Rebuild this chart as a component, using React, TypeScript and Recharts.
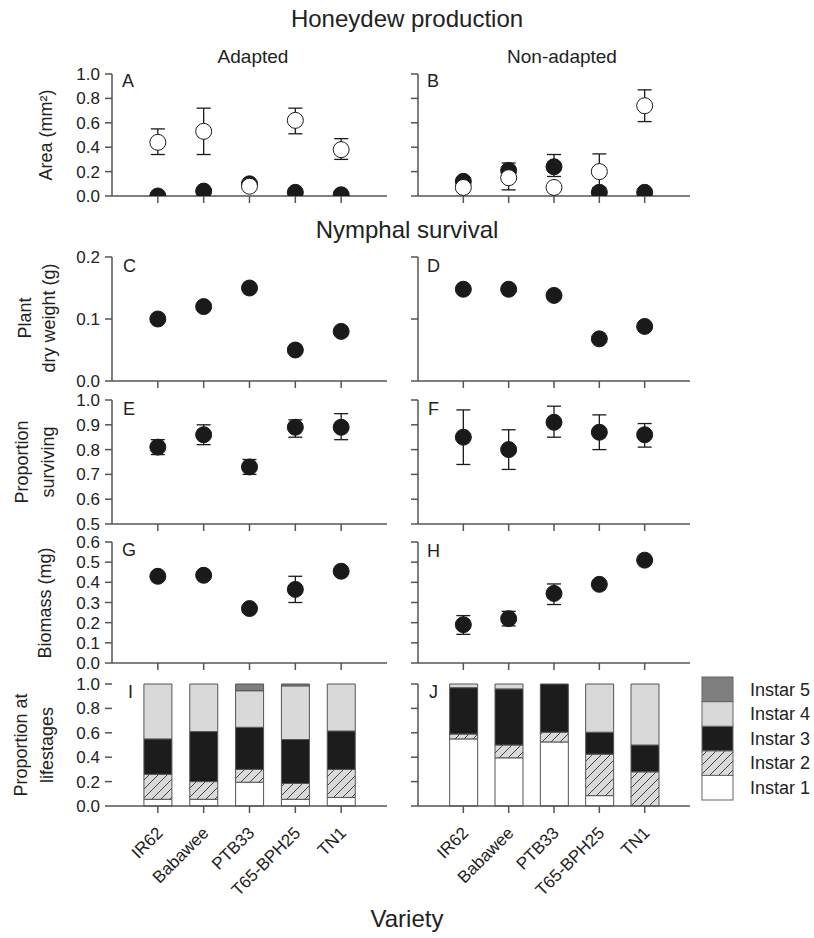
import { ScatterChart, Scatter, XAxis, YAxis, ErrorBar, BarChart, Bar } from 'recharts'

const FONT = "'Liberation Sans', Arial, sans-serif"
const AXIS = '#555'
const INK = '#1a1a1a'

const varieties = ['IR62', 'Babawee', 'PTB33', 'T65-BPH25', 'TN1']
const xPos = [1, 2, 3, 4, 5]

// honeydew area (mm2); filled and open circles, error bounds (lo/hi)
const adaptedFilled = [0.0, 0.04, 0.1, 0.03, 0.01]
const adaptedOpen = [0.44, 0.53, 0.08, 0.62, 0.38]
const adaptedOpenLo = [0.34, 0.34, 0.08, 0.51, 0.3]
const adaptedOpenHi = [0.55, 0.72, 0.08, 0.72, 0.47]
const nonFilled = [0.12, 0.21, 0.24, 0.03, 0.03]
const nonFilledLo = [0.12, 0.21, 0.16, 0.03, 0.03]
const nonFilledHi = [0.12, 0.21, 0.34, 0.03, 0.03]
const nonOpen = [0.07, 0.15, 0.07, 0.2, 0.74]
const nonOpenLo = [0.07, 0.05, 0.07, 0.07, 0.61]
const nonOpenHi = [0.07, 0.27, 0.07, 0.345, 0.87]

// plant dry weight (g)
const dryAdapted = [0.1, 0.12, 0.15, 0.05, 0.08]
const dryNon = [0.148, 0.148, 0.138, 0.068, 0.088]

// proportion surviving
const survAdapted = [0.81, 0.86, 0.73, 0.89, 0.89]
const survAdaptedLo = [0.78, 0.82, 0.7, 0.85, 0.84]
const survAdaptedHi = [0.84, 0.9, 0.76, 0.92, 0.945]
const survNon = [0.85, 0.8, 0.91, 0.87, 0.86]
const survNonLo = [0.74, 0.72, 0.85, 0.8, 0.81]
const survNonHi = [0.96, 0.88, 0.975, 0.94, 0.905]

// biomass (mg)
const bioAdapted = [0.43, 0.435, 0.27, 0.365, 0.455]
const bioAdaptedLo = [0.43, 0.435, 0.27, 0.3, 0.455]
const bioAdaptedHi = [0.43, 0.435, 0.27, 0.43, 0.455]
const bioNon = [0.19, 0.22, 0.345, 0.39, 0.51]
const bioNonLo = [0.142, 0.184, 0.29, 0.39, 0.51]
const bioNonHi = [0.235, 0.256, 0.392, 0.39, 0.51]

// proportion at lifestages
const instars = ['Instar 1', 'Instar 2', 'Instar 3', 'Instar 4', 'Instar 5']
const adaptedI1 = [0.055, 0.055, 0.195, 0.055, 0.07]
const adaptedI2 = [0.205, 0.145, 0.105, 0.13, 0.23]
const adaptedI3 = [0.29, 0.41, 0.345, 0.36, 0.315]
const adaptedI4 = [0.45, 0.39, 0.3, 0.44, 0.385]
const adaptedI5 = [0, 0, 0.055, 0.015, 0]
const nonI1 = [0.55, 0.395, 0.525, 0.085, 0]
const nonI2 = [0.04, 0.105, 0.08, 0.34, 0.28]
const nonI3 = [0.38, 0.46, 0.395, 0.18, 0.22]
const nonI4 = [0.03, 0.04, 0, 0.395, 0.5]
const nonI5 = [0, 0, 0, 0, 0]

const instarFills = ['#ffffff', 'url(#hatch)', '#1c1c1c', '#d9d9d9', '#7f7f7f']

const ticks1 = [0, 0.2, 0.4, 0.6, 0.8, 1.0]
const ticksDry = [0, 0.1, 0.2]
const ticksSurv = [0.5, 0.6, 0.7, 0.8, 0.9, 1.0]
const ticksBio = [0, 0.1, 0.2, 0.3, 0.4, 0.5, 0.6]

const pts = (ys: number[], lo?: number[], hi?: number[]) =>
  ys.map((y, i) => ({
    x: xPos[i],
    y,
    err: lo && hi ? [y - lo[i], hi[i] - y] : [0, 0],
  }))

const stack = (cols: number[][]) =>
  xPos.map((x, i) => ({ x, i1: cols[0][i], i2: cols[1][i], i3: cols[2][i], i4: cols[3][i], i5: cols[4][i] }))

type Series = { data: { x: number; y: number; err: number[] }[]; open?: boolean; bars?: boolean }
type Box = [number, number, number, number]

const LEFT_X: [number, number] = [112, 387]
const RIGHT_X: [number, number] = [418, 690]

const dot = (open: boolean) => (props: any) => (
  <circle cx={props.cx} cy={props.cy} r={8} fill={open ? '#fff' : INK} stroke={INK} strokeWidth={1} />
)

function ScatterPanel({ box, domain, ticks, labels, series }: { box: Box; domain: [number, number]; ticks: number[]; labels: boolean; series: Series[] }) {
  const [x0, y0, x1, y1] = box
  const w = x1 - x0 + 70
  const h = y1 - y0 + 40
  return (
    <div style={{ position: 'absolute', left: x0 - 60, top: y0 - 10, width: w, height: h }}>
      <ScatterChart width={w} height={h} margin={{ top: 10, right: 10, bottom: 0, left: 0 }}>
        <XAxis
          type="number"
          dataKey="x"
          domain={[0, 6]}
          ticks={xPos}
          interval={0}
          tickFormatter={() => ''}
          height={30}
          tickSize={7}
          stroke={AXIS}
          strokeWidth={1.5}
        />
        <YAxis
          type="number"
          dataKey="y"
          domain={domain}
          ticks={ticks}
          interval={0}
          allowDataOverflow
          width={60}
          tickSize={7}
          tickMargin={5}
          stroke={AXIS}
          strokeWidth={1.5}
          tickFormatter={(v: number) => (labels ? v.toFixed(1) : '')}
          tick={{ fontSize: 17, fill: '#222', fontFamily: FONT }}
        />
        {series.map((s, k) => (
          <Scatter key={k} data={s.data} isAnimationActive={false} shape={dot(!!s.open)}>
            {s.bars && <ErrorBar dataKey="err" direction="y" width={7} stroke={INK} strokeWidth={1.3} />}
          </Scatter>
        ))}
      </ScatterChart>
    </div>
  )
}

const VarietyTick = (props: any) => {
  const { x, y, payload } = props
  const ex = x + 6
  const ey = y + 19
  return (
    <text x={ex} y={ey} transform={`rotate(-45 ${ex} ${ey})`} textAnchor="end" fontSize={17} fill="#222" fontFamily={FONT}>
      {varieties[payload.value - 1]}
    </text>
  )
}

function StackPanel({ box, labels, data }: { box: Box; labels: boolean; data: ReturnType<typeof stack> }) {
  const [x0, y0, x1, y1] = box
  const w = x1 - x0 + 70
  const h = y1 - y0 + 110
  const keys = ['i1', 'i2', 'i3', 'i4', 'i5']
  return (
    <div style={{ position: 'absolute', left: x0 - 60, top: y0 - 10, width: w, height: h }}>
      <BarChart width={w} height={h} data={data} margin={{ top: 10, right: 10, bottom: 0, left: 0 }}>
        <XAxis
          type="number"
          dataKey="x"
          domain={[0, 6]}
          ticks={xPos}
          interval={0}
          height={100}
          tickSize={7}
          tickMargin={2}
          stroke={AXIS}
          strokeWidth={1.5}
          tick={<VarietyTick />}
        />
        <YAxis
          type="number"
          domain={[0, 1]}
          ticks={ticks1}
          interval={0}
          width={60}
          tickSize={7}
          tickMargin={5}
          stroke={AXIS}
          strokeWidth={1.5}
          axisLine={!labels}
          tickFormatter={(v: number) => (labels ? v.toFixed(1) : '')}
          tick={{ fontSize: 17, fill: '#222', fontFamily: FONT }}
        />
        {keys.map((k, i) => (
          <Bar key={k} dataKey={k} stackId="s" barSize={28} fill={instarFills[i]} stroke="#555" strokeWidth={1} isAnimationActive={false} />
        ))}
      </BarChart>
    </div>
  )
}

const rowA: [number, number] = [74, 196]
const rowC: [number, number] = [257, 381]
const rowE: [number, number] = [400, 524]
const rowG: [number, number] = [542, 663]
const rowI: [number, number] = [684, 806]

const box = (xs: [number, number], ys: [number, number]): Box => [xs[0], ys[0], xs[1], ys[1]]

const letters: [string, number, number][] = [
  ['A', 122, 87], ['B', 427, 87], ['C', 123, 272], ['D', 427, 272], ['E', 123, 415],
  ['F', 428, 415], ['G', 122, 556], ['H', 427, 557], ['I', 128, 698], ['J', 429, 698],
]

function YTitle({ lines, cy, xs }: { lines: string[]; cy: number; xs: number[] }) {
  return (
    <>
      {lines.map((t, i) => (
        <text key={i} x={xs[i]} y={cy} transform={`rotate(-90 ${xs[i]} ${cy})`} textAnchor="middle" fontSize={18} fill="#222">
          {t}
        </text>
      ))}
    </>
  )
}

export default function App() {
  return (
    <div style={{ position: 'absolute', left: 0, top: 0, width: 814, height: 938, background: '#fff', fontFamily: FONT }}>
      <ScatterPanel
        box={box(LEFT_X, rowA)}
        domain={[0, 1]}
        ticks={ticks1}
        labels
        series={[{ data: pts(adaptedFilled) }, { data: pts(adaptedOpen, adaptedOpenLo, adaptedOpenHi), open: true, bars: true }]}
      />
      <ScatterPanel
        box={box(RIGHT_X, rowA)}
        domain={[0, 1]}
        ticks={ticks1}
        labels={false}
        series={[
          { data: pts(nonFilled, nonFilledLo, nonFilledHi), bars: true },
          { data: pts(nonOpen, nonOpenLo, nonOpenHi), open: true, bars: true },
        ]}
      />
      <ScatterPanel box={box(LEFT_X, rowC)} domain={[0, 0.2]} ticks={ticksDry} labels series={[{ data: pts(dryAdapted) }]} />
      <ScatterPanel box={box(RIGHT_X, rowC)} domain={[0, 0.2]} ticks={ticksDry} labels={false} series={[{ data: pts(dryNon) }]} />
      <ScatterPanel
        box={box(LEFT_X, rowE)}
        domain={[0.5, 1]}
        ticks={ticksSurv}
        labels
        series={[{ data: pts(survAdapted, survAdaptedLo, survAdaptedHi), bars: true }]}
      />
      <ScatterPanel
        box={box(RIGHT_X, rowE)}
        domain={[0.5, 1]}
        ticks={ticksSurv}
        labels={false}
        series={[{ data: pts(survNon, survNonLo, survNonHi), bars: true }]}
      />
      <ScatterPanel
        box={box(LEFT_X, rowG)}
        domain={[0, 0.6]}
        ticks={ticksBio}
        labels
        series={[{ data: pts(bioAdapted, bioAdaptedLo, bioAdaptedHi), bars: true }]}
      />
      <ScatterPanel
        box={box(RIGHT_X, rowG)}
        domain={[0, 0.6]}
        ticks={ticksBio}
        labels={false}
        series={[{ data: pts(bioNon, bioNonLo, bioNonHi), bars: true }]}
      />
      <StackPanel box={box(LEFT_X, rowI)} labels data={stack([adaptedI1, adaptedI2, adaptedI3, adaptedI4, adaptedI5])} />
      <StackPanel box={box(RIGHT_X, rowI)} labels={false} data={stack([nonI1, nonI2, nonI3, nonI4, nonI5])} />

      <svg width={814} height={938} style={{ position: 'absolute', left: 0, top: 0, pointerEvents: 'none' }} fontFamily={FONT}>
        <defs>
          <pattern id="hatch" patternUnits="userSpaceOnUse" width={9} height={9}>
            <rect width={9} height={9} fill="#dadada" />
            <path d="M0,9 L9,0 M-2,2 L2,-2 M7,11 L11,7" stroke="#333" strokeWidth={0.9} />
          </pattern>
        </defs>
        <text x={407} y={27} textAnchor="middle" fontSize={24} fill="#222">Honeydew production</text>
        <text x={253} y={63} textAnchor="middle" fontSize={19} fill="#222">Adapted</text>
        <text x={562} y={63} textAnchor="middle" fontSize={19} fill="#222">Non-adapted</text>
        <text x={407} y={238} textAnchor="middle" fontSize={24} fill="#222">Nymphal survival</text>
        <text x={407} y={927} textAnchor="middle" fontSize={24} fill="#222">Variety</text>

        <YTitle lines={['Area (mm²)']} cy={135} xs={[52]} />
        <YTitle lines={['Plant', 'dry weight (g)']} cy={318} xs={[31, 55]} />
        <YTitle lines={['Proportion', 'surviving']} cy={462} xs={[28, 54]} />
        <YTitle lines={['Biomass (mg)']} cy={603} xs={[51]} />
        <YTitle lines={['Proportion at', 'lifestages']} cy={745} xs={[27, 53]} />

        {letters.map(([t, x, y]) => (
          <text key={t} x={x} y={y} fontSize={18} fill="#222">{t}</text>
        ))}

        {instars.map((name, i) => {
          const y = 800 - (i + 1) * 24.6
          return (
            <g key={name}>
              <rect x={702} y={y} width={31} height={24.6} fill={instarFills[i]} stroke="#666" strokeWidth={1} />
              <text x={750} y={y + 18.5} fontSize={18} fill="#222">{name}</text>
            </g>
          )
        })}
      </svg>
    </div>
  )
}
